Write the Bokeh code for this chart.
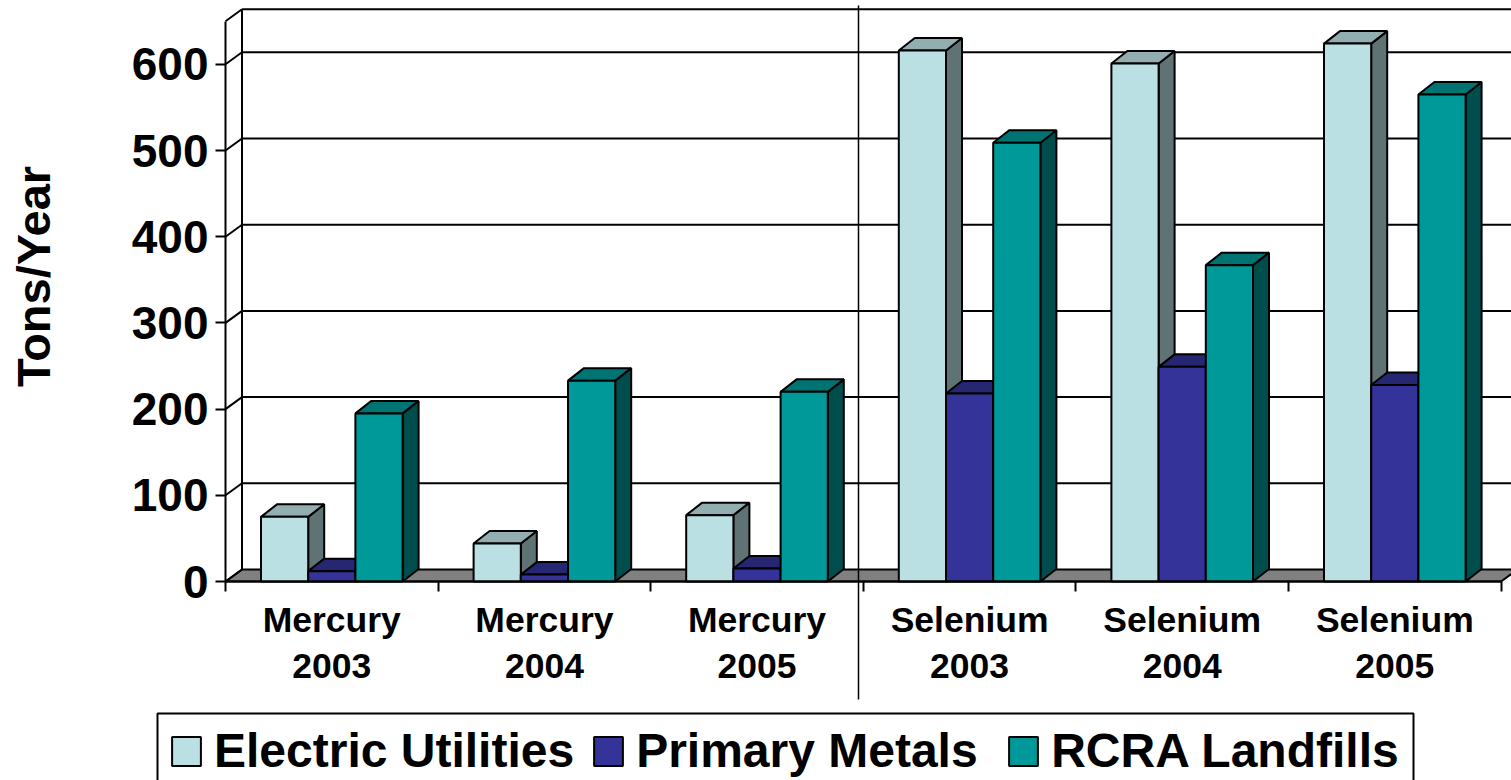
from bokeh.core.properties import value
from bokeh.embed import file_html
from bokeh.resources import INLINE
from bokeh.plotting import figure
from bokeh.models import (Arrow, FixedTicker, Legend, LegendItem, LinearAxis, Range1d)

# Emissions by source, tons per year
categories = ["Mercury\n2003", "Mercury\n2004", "Mercury\n2005",
              "Selenium\n2003", "Selenium\n2004", "Selenium\n2005"]
electric_utilities = [75, 44, 77, 616, 601, 624]
primary_metals = [12, 8, 15, 218, 249, 228]
rcra_landfills = [195, 233, 220, 509, 367, 565]
series_names = ["Electric Utilities", "Primary Metals", "RCRA Landfills"]
y_ticks = [0, 100, 200, 300, 400, 500, 600]

# (front, top face, side face)
palette = [("#BAE0E3", "#92AEB1", "#5F7375"),
           ("#333399", "#262672", "#262672"),
           ("#009999", "#007373", "#004D4D")]

FONT = "Liberation Sans"
WIDTH, HEIGHT = 1511, 780
ORIGIN_X, ORIGIN_Y = 225, 581
PX_PER_CAT = 212.6
PX_PER_UNIT = 0.862
WALL_DX, WALL_DY = 16.5 / PX_PER_CAT, 12 / PX_PER_UNIT
BAR_DX, BAR_DY = 16 / PX_PER_CAT, 12.5 / PX_PER_UNIT
BAR_W = 47.2 / PX_PER_CAT
Y_MAX = 650
EDGE = 2


def px_x(sx):
    """Canvas column expressed in category units."""
    return (sx - ORIGIN_X) / PX_PER_CAT


def px_y(sy):
    """Canvas row expressed in value units."""
    return (ORIGIN_Y - sy) / PX_PER_UNIT


# The frame covers the whole canvas, so the axes sit at fixed locations inside it
p = figure(width=WIDTH, height=HEIGHT, output_backend="svg", toolbar_location=None,
           x_range=Range1d(px_x(0), px_x(WIDTH)),
           y_range=Range1d(px_y(HEIGHT), px_y(0)),
           min_border=0, outline_line_color=None,
           background_fill_color="white", border_fill_color="white")
p.grid.visible = False

# Floor of the 3D box
n = len(categories)
p.patch([0, n, n + WALL_DX, WALL_DX], [0, 0, WALL_DY, WALL_DY],
        fill_color="#808080", line_color="black", line_width=EDGE)

# Back wall gridlines, side wall diagonals and wall edges
wall_levels = y_ticks[1:] + [Y_MAX]
p.multi_line([[WALL_DX, n + 1] for _ in wall_levels],
             [[v + WALL_DY, v + WALL_DY] for v in wall_levels],
             line_color="black", line_width=EDGE)
side_levels = y_ticks + [Y_MAX]
p.multi_line([[0, WALL_DX] for _ in side_levels],
             [[v, v + WALL_DY] for v in side_levels],
             line_color="black", line_width=EDGE)
p.line([WALL_DX, WALL_DX], [WALL_DY, Y_MAX + WALL_DY], line_color="black", line_width=EDGE)

# Extruded bars, one series at a time from left to right
legend_items = []
for s, (name, values, colors) in enumerate(zip(series_names,
                                               [electric_utilities, primary_metals, rcra_landfills],
                                               palette)):
    centers = [i + 0.5 + (s - 1) * BAR_W for i in range(n)]
    lefts = [c - BAR_W / 2 for c in centers]
    rights = [c + BAR_W / 2 for c in centers]
    p.patches([[r, r + BAR_DX, r + BAR_DX, r] for r in rights],
              [[0, BAR_DY, v + BAR_DY, v] for v in values],
              fill_color=colors[2], line_color="black", line_width=EDGE)
    p.patches([[l, l + BAR_DX, r + BAR_DX, r] for l, r in zip(lefts, rights)],
              [[v, v + BAR_DY, v + BAR_DY, v] for v in values],
              fill_color=colors[1], line_color="black", line_width=EDGE)
    front = p.vbar(x=centers, top=values, width=BAR_W, bottom=0,
                   fill_color=colors[0], line_color="black", line_width=EDGE)
    legend_items.append(LegendItem(label=name, renderers=[front]))

# Value axis
y_axis = p.yaxis[0]
y_axis.fixed_location = 0
y_axis.ticker = FixedTicker(ticks=y_ticks)
y_axis.bounds = (0, Y_MAX)
y_axis.major_label_text_font = FONT
y_axis.major_label_text_font_style = "bold"
y_axis.major_label_text_font_size = "46px"
y_axis.major_label_text_color = "black"
y_axis.major_label_standoff = 7
y_axis.major_tick_in = 0
y_axis.major_tick_out = 10
y_axis.minor_tick_line_color = None
y_axis.axis_line_width = 2
y_axis.major_tick_line_width = 2

# Value axis title
p.text(x=[px_x(33)], y=[px_y(276)], text=["Tons/Year"],
       angle=1.5708, text_align="center", text_baseline="middle", text_color="black",
       text_font=value(FONT), text_font_style="bold", text_font_size="47px")

# Category boundaries
x_axis = p.xaxis[0]
x_axis.fixed_location = 0
x_axis.ticker = FixedTicker(ticks=list(range(n + 1)))
x_axis.bounds = (0, n)
x_axis.major_tick_in = 0
x_axis.major_tick_out = 10
x_axis.minor_tick_line_color = None
x_axis.major_label_text_color = None
x_axis.major_label_text_font_size = "1px"
x_axis.major_label_standoff = 0
x_axis.axis_line_width = 2
x_axis.major_tick_line_width = 2

# Category names, centred between the boundaries
centers = [i + 0.5 for i in range(n)]
label_axis = LinearAxis(ticker=FixedTicker(ticks=centers), fixed_location=0,
                        major_label_overrides={c: t for c, t in zip(centers, categories)},
                        axis_line_color=None, major_tick_line_color=None,
                        minor_tick_line_color=None, major_tick_in=0, major_tick_out=0,
                        major_label_standoff=18,
                        major_label_text_font=FONT, major_label_text_font_style="bold",
                        major_label_text_font_size="35.5px", major_label_text_color="black",
                        major_label_text_line_height=1.17)
p.add_layout(label_axis, "below")

# Divider between the two pollutants
p.add_layout(Arrow(end=None, x_start=px_x(858), x_end=px_x(858),
                   y_start=px_y(5), y_end=px_y(699), line_color="black", line_width=1.5))

# Legend box runs off the bottom of the canvas
p.line([px_x(157), px_x(157), px_x(1413), px_x(1413)],
       [px_y(800), px_y(713), px_y(713), px_y(800)], line_color="black", line_width=2)

legend = Legend(items=legend_items, orientation="horizontal",
                location=(168, 2), padding=0, margin=0, spacing=16,
                glyph_width=36, glyph_height=36, label_standoff=10, label_width=353,
                label_text_font=FONT, label_text_font_style="bold",
                label_text_font_size="48px", label_text_color="black",
                border_line_color=None, background_fill_alpha=0)
p.add_layout(legend)

open("out.html", "w").write(file_html(p, INLINE))
